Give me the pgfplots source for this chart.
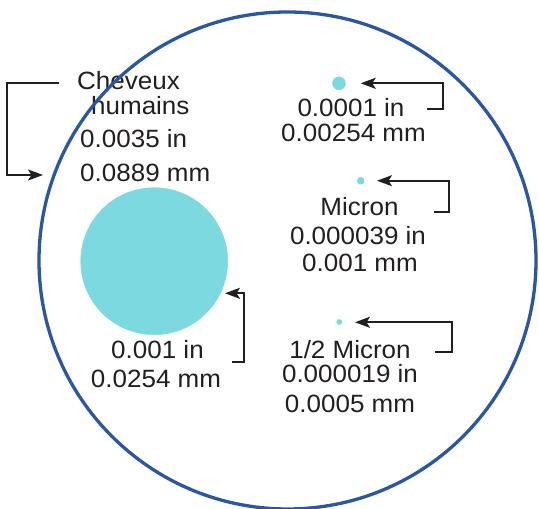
\documentclass[border=0pt]{standalone}
\usepackage{pgfplots}
\pgfplotsset{compat=1.18}
\usepackage{fontspec}
\setmainfont{Liberation Sans}[FakeStretch=1.04]
\usetikzlibrary{arrows.meta}
\definecolor{disk}{HTML}{7CD9DF}
\definecolor{ring}{HTML}{2B56A0}
\definecolor{ink}{HTML}{231F20}
\tikzset{lbl/.style={font=\fontsize{25bp}{29bp}\selectfont, inner sep=0pt, text=ink}}
\begin{document}
\begin{tikzpicture}
\path[use as bounding box] (0,0) rectangle (539bp,509bp);
\begin{axis}[at={(0,0)},anchor=south west,scale only axis,width=539bp,height=509bp,
  xmin=0,xmax=539,ymin=0,ymax=509,hide axis,clip=false]
% outline circle
\addplot[only marks, color=ring, mark=o, mark size=248.5bp, mark options={draw=ring, line width=3.3bp}] coordinates {(287.5,248.5)};
% disks
\addplot[only marks, color=disk, mark=*, mark size=73.5bp, mark options={draw=disk, fill=disk, line width=0.4bp}] coordinates {(154.2,247.8)};
\addplot[only marks, color=disk, mark=*, mark size=6.5bp, mark options={draw=disk, fill=disk, line width=0.4bp}] coordinates {(339,425.7)};
\addplot[only marks, color=disk, mark=*, mark size=3.5bp, mark options={draw=disk, fill=disk, line width=0.4bp}] coordinates {(360.7,328.3)};
\addplot[only marks, color=disk, mark=*, mark size=2.6bp, mark options={draw=disk, fill=disk, line width=0.4bp}] coordinates {(339.3,187)};
% arrows
\pgfplotsset{arr/.style={ink, line width=2bp, -{Stealth[length=15bp,width=11bp,inset=3.5bp]}}}
\addplot[arr] coordinates {(59,426) (7,426) (7,334) (43,334)};
\addplot[arr] coordinates {(426.7,400) (442.7,400) (442.7,425.7) (360.7,425.7)};
\addplot[arr] coordinates {(434,297.3) (449,297.3) (449,328.3) (377,328.3)};
\addplot[arr] coordinates {(435,157.3) (451.7,157.3) (451.7,186.7) (355,186.7)};
\addplot[arr] coordinates {(231.7,147.3) (244.3,147.3) (244.3,215.7) (225,215.7)};
% texts
\node[lbl,anchor=base west] at (axis cs:77,419) {Cheveux};
\node[lbl,anchor=base west] at (axis cs:91,394) {humains};
\node[lbl,anchor=base west] at (axis cs:80,361) {0.0035 in};
\node[lbl,anchor=base west] at (axis cs:80,327) {0.0889 mm};
\node[lbl,anchor=base] at (axis cs:351,392) {0.0001 in};
\node[lbl,anchor=base] at (axis cs:353.5,367) {0.00254 mm};
\node[lbl,anchor=base] at (axis cs:359.5,293) {Micron};
\node[lbl,anchor=base] at (axis cs:358,264) {0.000039 in};
\node[lbl,anchor=base] at (axis cs:360,237) {0.001 mm};
\node[lbl,anchor=base] at (axis cs:350,150) {1/2 Micron};
\node[lbl,anchor=base] at (axis cs:350,126) {0.000019 in};
\node[lbl,anchor=base] at (axis cs:350,96) {0.0005 mm};
\node[lbl,anchor=base] at (axis cs:157.5,150) {0.001 in};
\node[lbl,anchor=base] at (axis cs:156,121) {0.0254 mm};
\end{axis}
\end{tikzpicture}
\end{document}
